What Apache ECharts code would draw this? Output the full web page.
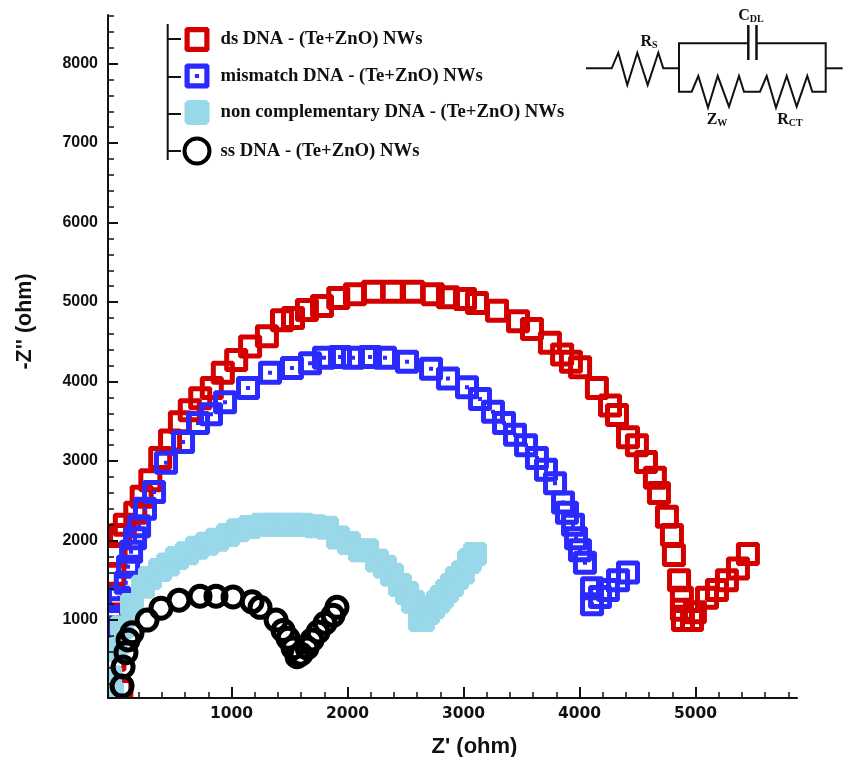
<!DOCTYPE html>
<html>
<head>
<meta charset="utf-8">
<style>html,body{margin:0;padding:0;background:#fff}#c{width:844px;height:757px}</style>
<script src="https://cdn.jsdelivr.net/npm/echarts@6/dist/echarts.min.js"></script>
</head>
<body>
<div id="c"></div>
<script>
var dsNames = "ds DNA - (Te+ZnO) NWs";
var mmNames = "mismatch DNA - (Te+ZnO) NWs";
var ncNames = "non complementary DNA - (Te+ZnO) NWs";
var ssNames = "ss DNA - (Te+ZnO) NWs";

var dsDNA = [[50,120],[-10,500],[-30,750],[-30,1060],[-20,1310],[-10,1570],[0,1820],[40,2070],[80,2200],[170,2350],[225,2550],[300,2760],[385,3040],[470,3260],[555,3490],[640,3640],[730,3790],[830,3920],[925,4110],[1040,4270],[1160,4440],[1305,4570],[1435,4770],[1530,4800],[1650,4900],[1780,4950],[1920,5050],[2064,5100],[2220,5130],[2390,5130],[2565,5130],[2735,5100],[2866,5060],[3013,5040],[3116,4990],[3289,4890],[3470,4760],[3590,4660],[3745,4490],[3850,4340],[3926,4250],[4005,4180],[4150,3920],[4263,3700],[4323,3580],[4418,3300],[4495,3200],[4573,2990],[4650,2790],[4685,2600],[4754,2300],[4797,2070],[4814,1820],[4858,1500],[4883,1280],[4883,1130],[4892,1000],[4970,1000],[4995,1100],[5099,1280],[5185,1380],[5271,1500],[5366,1650],[5452,1830]];
var mismatchDNA = [[-47,690],[-40,850],[-20,1000],[0,1150],[30,1280],[88,1470],[108,1670],[134,1860],[168,2030],[203,2180],[254,2400],[332,2610],[435,2980],[582,3240],[711,3480],[823,3590],[944,3740],[1142,3920],[1332,4110],[1521,4170],[1677,4230],[1797,4300],[1935,4310],[2047,4300],[2194,4310],[2323,4300],[2513,4250],[2720,4160],[2866,4040],[3030,3930],[3142,3780],[3254,3620],[3349,3480],[3444,3330],[3539,3200],[3633,3040],[3711,2890],[3789,2720],[3858,2480],[3892,2350],[3944,2200],[3970,2030],[4004,1880],[4047,1720],[4108,1400],[4108,1200],[4177,1290],[4245,1380],[4332,1500],[4418,1600]];
var nonCompDNA = [[-30,80],[-47,280],[0,620],[56,910],[142,1190],[237,1420],[297,1530],[384,1630],[453,1700],[530,1780],[616,1840],[703,1910],[789,1960],[875,2010],[970,2070],[1056,2130],[1159,2170],[1263,2200],[1349,2200],[1435,2200],[1521,2200],[1616,2200],[1720,2180],[1823,2160],[1918,2040],[2013,1970],[2108,1880],[2168,1880],[2254,1750],[2323,1670],[2383,1570],[2452,1440],[2513,1340],[2564,1230],[2625,1000],[2650,1000],[2694,1090],[2737,1160],[2780,1230],[2814,1290],[2857,1365],[2900,1440],[2944,1530],[2995,1600],[3047,1730],[3056,1755],[3099,1830]];
var ssDNA = [[56,170],[65,410],[90,590],[108,750],[142,840],[272,1000],[392,1150],[547,1250],[728,1300],[866,1300],[1013,1290],[1177,1230],[1246,1160],[1384,1000],[1444,870],[1487,770],[1530,650],[1565,540],[1599,570],[1651,650],[1694,750],[1746,850],[1806,960],[1875,1060],[1909,1160]];

var xMajor = [1000,2000,3000,4000,5000];
var xMinor = [200,400,600,800,1200,1400,1600,1800,2200,2400,2600,2800,3200,3400,3600,3800,4200,4400,4600,4800,5200,5400,5600,5800];
var yMajor = [1000,2000,3000,4000,5000,6000,7000,8000];
var yMinor = [200,400,600,800,1200,1400,1600,1800,2200,2400,2600,2800,3200,3400,3600,3800,4200,4400,4600,4800,5200,5400,5600,5800,6200,6400,6600,6800,7200,7400,7600,7800,8200,8400,8600];

var XMIN=-65, XMAX=5875, YMIN=20, YMAX=8611;
var ringPath='path://M2 0H22L24 2V22L22 24H2L0 22V2ZM5 5V19H19V5Z';
var dotPath='path://M2 0H22L24 2V22L22 24H2L0 22V2ZM5 5V19H19V5ZM10 10H14V14H10Z';
var solidPath='path://M3 0H21L24 3V21L21 24H3L0 21V3Z';
function plain(v){return String(v);}

function xAxisOf(major){
  return {type:'value',position:'bottom',z:10,min:XMIN,max:XMAX,splitLine:{show:false},
    axisLine:{show:major,onZero:false,lineStyle:{color:'#111',width:2}},
    axisTick:{show:true,inside:true,length:major?11:6,customValues:major?xMajor:xMinor,lineStyle:{color:'#111',width:major?2:1.5}},
    axisLabel:major?{show:true,customValues:xMajor,formatter:plain,margin:8,color:'#111',fontFamily:'DejaVu Sans',fontWeight:'bold',fontSize:15.5}:{show:false},
    name:major?"Z' (ohm)":'',nameLocation:'middle',nameGap:38,
    nameTextStyle:{color:'#111',fontFamily:'Liberation Sans',fontWeight:'bold',fontSize:22,padding:[0,0,0,44]}};
}
function yAxisOf(major){
  return {type:'value',position:'left',z:10,min:YMIN,max:YMAX,splitLine:{show:false},
    axisLine:{show:major,onZero:false,lineStyle:{color:'#111',width:2}},
    axisTick:{show:true,inside:true,length:major?10:6,customValues:major?yMajor:yMinor,lineStyle:{color:'#111',width:major?2:1.5}},
    axisLabel:major?{show:true,customValues:yMajor,formatter:plain,margin:10,padding:[4,0,0,0],color:'#111',fontFamily:'Liberation Sans',fontWeight:'bold',fontSize:16}:{show:false},
    name:major?'-Z\'\' (ohm)':'',nameLocation:'middle',nameGap:72,
    nameTextStyle:{color:'#111',fontFamily:'Liberation Sans',fontWeight:'bold',fontSize:21.5,padding:[0,0,0,70]}};
}
function scatter(name,data,symbol,size,item){
  item.opacity=1;
  return {name:name,type:'scatter',xAxisIndex:0,yAxisIndex:0,data:data,symbol:symbol,symbolSize:size,itemStyle:item,silent:true,clip:true,emphasis:{disabled:true}};
}
var wire={stroke:'#111',lineWidth:2,fill:null};
function wirePts(pts){return {type:'polyline',shape:{points:pts},style:wire,silent:true};}
function label(x,y,big,small){
  return {type:'text',x:x,y:y,silent:true,style:{text:'{a|'+big+'}{b|'+small+'}',align:'center',verticalAlign:'middle',
    rich:{a:{fontFamily:'Liberation Serif',fontWeight:'bold',fontSize:16,fill:'#111',color:'#111'},
          b:{fontFamily:'Liberation Serif',fontWeight:'bold',fontSize:10,fill:'#111',color:'#111',verticalAlign:'bottom'}}}};
}
var chart=echarts.init(document.getElementById('c'),null,{renderer:'canvas'});
chart.setOption({
  animation:false,backgroundColor:'#fff',
  grid:{left:108,right:47,top:15,bottom:59,containLabel:false,outerBoundsMode:'none'},
  xAxis:[xAxisOf(true),xAxisOf(false)],
  yAxis:[yAxisOf(true),yAxisOf(false)],
  legend:{orient:'vertical',left:177.5,top:22,itemWidth:31,itemHeight:25,itemGap:11.5,selectedMode:false,
    textStyle:{fontFamily:'Liberation Serif',fontWeight:'bold',fontSize:18.7,color:'#111',padding:[1,0,0,3]},
    data:[dsNames,mmNames,ncNames,{name:ssNames,itemStyle:{borderWidth:4,borderColor:'#000',color:'transparent'}}]},
  series:[
    scatter(dsNames,dsDNA,ringPath,24,{color:'#d40000'}),
    scatter(mmNames,mismatchDNA,dotPath,24,{color:'#2a2aff'}),
    scatter(ncNames,nonCompDNA,solidPath,24,{color:'#98d8e8'}),
    scatter(ssNames,ssDNA,'circle',20,{color:'transparent',borderColor:'#000',borderWidth:5})
  ],
  graphic:{elements:[
    {type:'rect',z:5,silent:true,shape:{x:0,y:0,width:107,height:757},style:{fill:'#fff'}},
    {type:'rect',z:5,silent:true,shape:{x:0,y:699,width:844,height:58},style:{fill:'#fff'}},
    wirePts([[167.7,24],[167.7,160]]),
    wirePts([[167.7,39],[181,39]]),
    wirePts([[167.7,77],[181,77]]),
    wirePts([[167.7,114],[181,114]]),
    wirePts([[167.7,151],[181,151]]),
    wirePts([[586,68.3],[611.7,68.3],[618.3,52.7],[627.3,85],[637.3,52.7],[647.7,85],[658.3,52.7],[663.3,68.3],[679,68.3]]),
    wirePts([[748.3,43.3],[679,43.3],[679,91.7],[691.7,91.7],[698.3,76],[708,107.7],[717.7,76],[729,106.7],[739,76],[744,91.7],[760,91.7],[766.7,76],[776,107.7],[786.7,76],[796.7,106.7],[807.3,76],[812.3,91.7],[825.7,91.7],[825.7,43.3],[756.5,43.3]]),
    wirePts([[825.7,68.3],[842.7,68.3]]),
    {type:'line',shape:{x1:748.3,y1:25,x2:748.3,y2:60},style:{stroke:'#111',lineWidth:2.5},silent:true},
    {type:'line',shape:{x1:756.5,y1:25,x2:756.5,y2:60},style:{stroke:'#111',lineWidth:2.5},silent:true},
    label(649,42,'R','S'),
    label(751,16,'C','DL'),
    label(717,120,'Z','W'),
    label(790,120,'R','CT')
  ]}
});
</script>
</body>
</html>
